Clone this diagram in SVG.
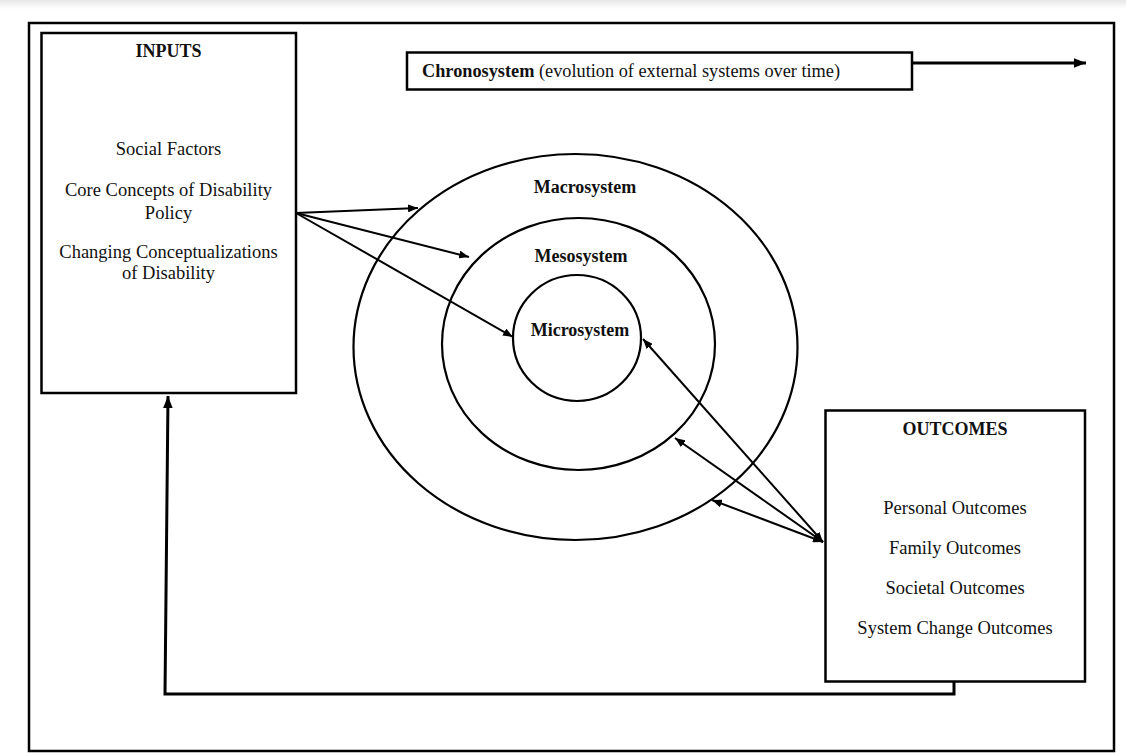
<svg xmlns="http://www.w3.org/2000/svg" width="1126" height="753" viewBox="0 0 1126 753">
<defs>
<linearGradient id="band" x1="0" y1="0" x2="0" y2="1">
<stop offset="0" stop-color="#e6e6e6"/>
<stop offset="1" stop-color="#ffffff"/>
</linearGradient>
<marker id="ah" viewBox="0 0 10 8" refX="10" refY="4" markerWidth="10" markerHeight="8" markerUnits="userSpaceOnUse" orient="auto-start-reverse">
<path d="M0,0 L10,4 L0,8 z" fill="#000"/>
</marker>
<marker id="ahb" viewBox="0 0 10 8" refX="10" refY="4" markerWidth="12" markerHeight="10" markerUnits="userSpaceOnUse" orient="auto">
<path d="M0,0 L10,4 L0,8 z" fill="#000"/>
</marker>
</defs>
<style>
.box{fill:#fff;stroke:#000;stroke-width:2.5}
.ring{fill:none;stroke:#000;stroke-width:2.2}
.ln{fill:none;stroke:#000;stroke-width:2}
.thick{fill:none;stroke:#000;stroke-width:3}
.t{font-family:"Liberation Serif","Times New Roman",serif;font-size:18.5px;fill:#111;text-anchor:middle}
.b{font-family:"Liberation Serif","Times New Roman",serif;font-size:18px;font-weight:bold;fill:#111;text-anchor:middle}
</style>
<rect x="0" y="0" width="1126" height="753" fill="#fff"/>
<rect x="0" y="0" width="1126" height="9" fill="url(#band)"/>
<rect id="frame" x="29" y="23" width="1085" height="728" fill="none" stroke="#000" stroke-width="2.5"/>

<g id="macrosystem">
<ellipse class="ring" cx="575.5" cy="347" rx="222" ry="193"/>
<text class="b" x="585" y="193">Macrosystem</text>
</g>
<g id="mesosystem">
<ellipse class="ring" cx="578.5" cy="344" rx="136.5" ry="126"/>
<text class="b" x="581" y="262">Mesosystem</text>
</g>
<g id="microsystem">
<ellipse class="ring" cx="577" cy="338" rx="64" ry="63"/>
<text class="b" x="580" y="336">Microsystem</text>
</g>

<g id="inputs">
<rect class="box" x="41.5" y="33" width="254.5" height="360"/>
<text class="b" x="168.5" y="57">INPUTS</text>
<text class="t" x="168.5" y="155">Social Factors</text>
<text class="t" x="168.5" y="196">Core Concepts of Disability</text>
<text class="t" x="168.5" y="219">Policy</text>
<text class="t" x="168.5" y="258">Changing Conceptualizations</text>
<text class="t" x="168.5" y="279">of Disability</text>
</g>

<g id="chronosystem">
<rect class="box" x="407" y="52.5" width="505" height="37"/>
<text x="422" y="77" style="font-family:'Liberation Serif','Times New Roman',serif;font-size:18.3px;fill:#111"><tspan font-weight="bold">Chronosystem</tspan> (evolution of external systems over time)</text>
</g>

<g id="outcomes">
<rect class="box" x="825.5" y="410.5" width="259.5" height="271"/>
<text class="b" x="955" y="435">OUTCOMES</text>
<text class="t" x="955" y="514">Personal Outcomes</text>
<text class="t" x="955" y="554">Family Outcomes</text>
<text class="t" x="955" y="594">Societal Outcomes</text>
<text class="t" x="955" y="634">System Change Outcomes</text>
</g>

<g id="connectors">
<line class="ln" x1="296" y1="213" x2="418" y2="208" marker-end="url(#ah)"/>
<line class="ln" x1="296" y1="213" x2="469" y2="257" marker-end="url(#ah)"/>
<line class="ln" x1="296" y1="213" x2="513" y2="337" marker-end="url(#ah)"/>
<line class="ln" x1="823" y1="542" x2="643" y2="339" marker-start="url(#ah)" marker-end="url(#ah)"/>
<line class="ln" x1="823" y1="542" x2="675" y2="438" marker-start="url(#ah)" marker-end="url(#ah)"/>
<line class="ln" x1="823" y1="542" x2="712" y2="500" marker-start="url(#ah)" marker-end="url(#ah)"/>
<path class="thick" d="M954,682 V694 H165 L168,396" marker-end="url(#ahb)"/>
<line class="thick" x1="913" y1="63" x2="1086" y2="63" marker-end="url(#ahb)"/>
</g>
</svg>
